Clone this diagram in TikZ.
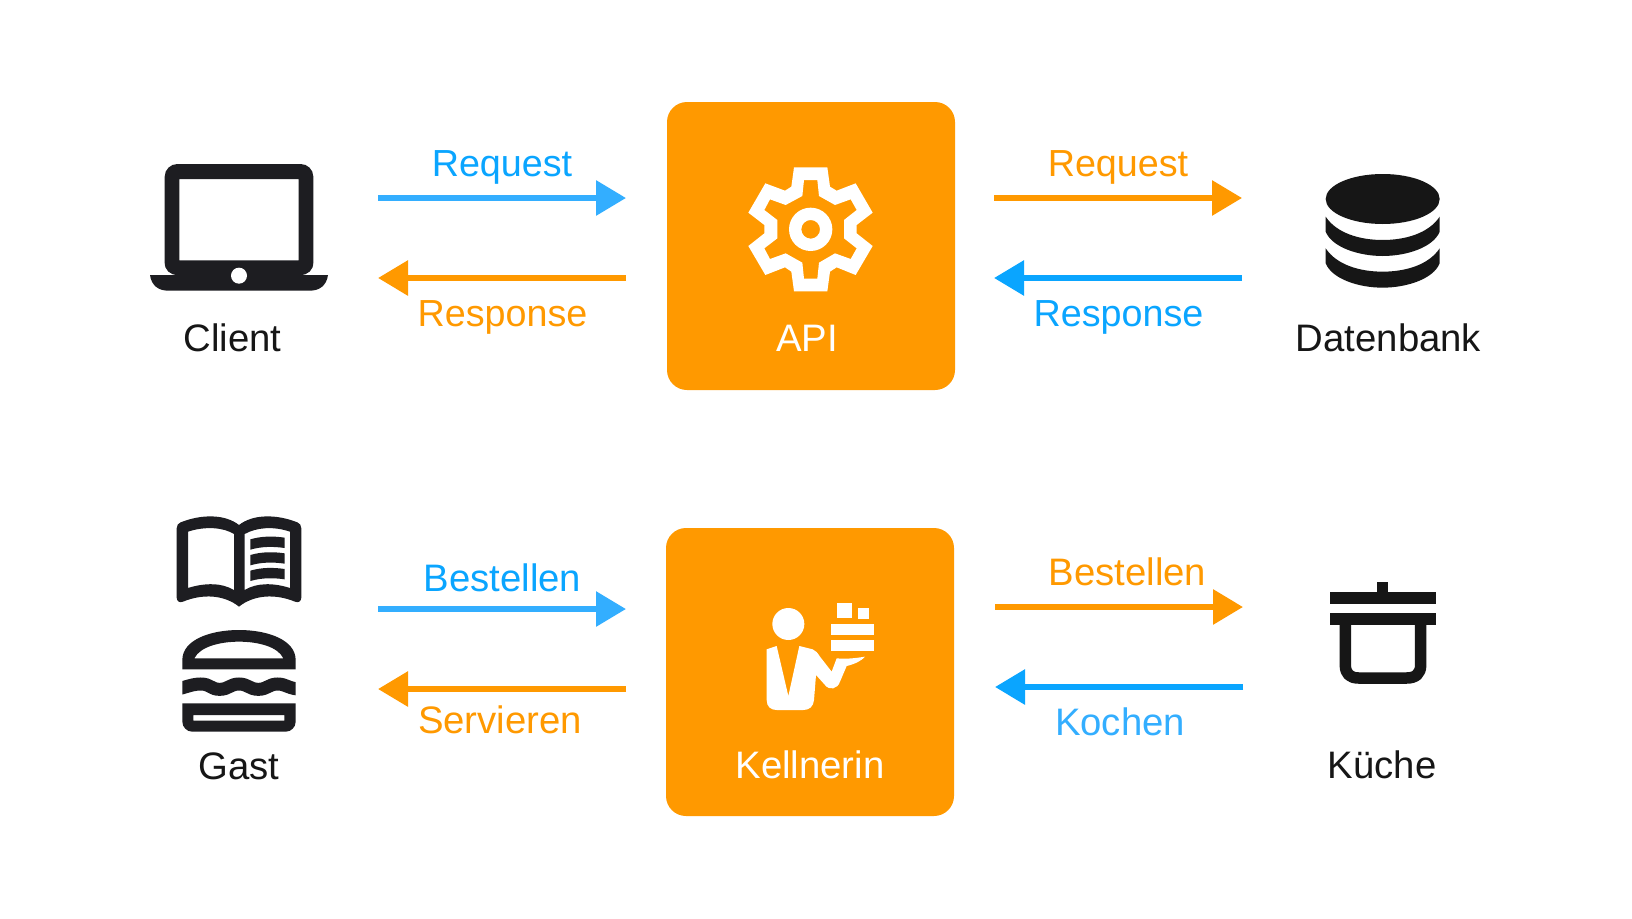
\documentclass[tikz,border=0pt]{standalone}
\usepackage{fontspec}
\setmainfont{Liberation Sans}
\definecolor{org}{HTML}{FF9900}
\definecolor{blu}{HTML}{33AEFF}
\definecolor{blutxt}{HTML}{0AA5FF}
\definecolor{ink}{HTML}{1D1D21}
\definecolor{blk}{HTML}{161616}
\usetikzlibrary{arrows.meta}
\tikzset{
 lbl/.style={anchor=base,inner sep=0pt,font=\fontsize{38.3}{40}\selectfont},
 lblb/.style={anchor=base,inner sep=0pt,font=\fontsize{37.7}{40}\selectfont},
 card/.style={fill=org,rounded corners=20pt,draw=none},
 arr/.style={line width=6pt,-{Triangle[length=30pt,width=34pt]}},
 zoomed/.style={x=.33333pt,y=-.33333pt},
}
\begin{document}
\begin{tikzpicture}[x=1pt,y=-1pt]
\useasboundingbox (0,0) rectangle (1632,918);
\fill[white] (0,0) rectangle (1632,918);
% cards
\path[card] (667,102) rectangle (955,390);
\path[card] (666,528) rectangle (954,816);
% laptop
\begin{scope}[xshift=130pt,yshift=-140pt,zoomed]
\fill[ink,even odd rule]
 (104,110) arc[start angle=180,end angle=270,radius=38] -- (512,72) arc[start angle=270,end angle=360,radius=38] -- (550,367) .. controls (550,390) and (535,405) .. (510,405) -- (594,405) .. controls (590,435) and (570,452) .. (540,452) -- (114,452) .. controls (84,452) and (64,435) .. (60,405) -- (144,405) .. controls (119,405) and (104,390) .. (104,367) -- cycle
 (148,117) rectangle (506,361);
\fill[white] (327,407) circle[radius=24];
\end{scope}
% book + burger
\begin{scope}[xshift=140pt,yshift=-500pt,zoomed]
\fill[ink,even odd rule]
 (110,85) .. controls (110,75) and (115,70) .. (122,67) .. controls (185,42) and (255,42) .. (297,75)
 .. controls (339,42) and (409,42) .. (472,67) .. controls (479,70) and (484,75) .. (484,85)
 -- (484,292) .. controls (484,303) and (476,310) .. (465,305) .. controls (405,280) and (340,285) .. (297,320)
 .. controls (254,285) and (189,280) .. (129,305) .. controls (118,310) and (110,303) .. (110,292) -- cycle
 (144,95) .. controls (195,78) and (250,82) .. (282,102) -- (282,270) .. controls (245,248) and (195,248) .. (144,264) -- cycle
 (314,102) .. controls (350,82) and (400,78) .. (450,95) -- (450,264) .. controls (400,248) and (350,248) .. (314,270) -- cycle;
\foreach \t in {0,47,94}{
 \fill[ink] (331,{118+\t}) .. controls (365,{108+\t}) and (400,{108+\t}) .. (434,{113+\t}) -- (434,{144+\t}) .. controls (400,{139+\t}) and (365,{139+\t}) .. (331,{149+\t}) -- cycle;
}
\fill[ink,even odd rule]
 (127,508) -- (127,480) .. controls (127,420) and (210,390) .. (297,390) .. controls (384,390) and (467,420) .. (467,480) -- (467,508) -- cycle
 (163,475) .. controls (180,440) and (240,425) .. (297,425) .. controls (354,425) and (414,440) .. (430,475) -- cycle;
\begin{scope}
\clip (127,520) rectangle (467,600);
\draw[ink,line width=13pt] (100,568) .. controls (125,568) and (150,552) .. (182,552) .. controls (212,552) and (212,568) .. (239,568) .. controls (266,568) and (270,552) .. (297,552) .. controls (324,552) and (328,568) .. (355,568) .. controls (382,568) and (386,552) .. (413,552) .. controls (440,552) and (445,568) .. (490,568);
\end{scope}
\fill[ink,even odd rule]
 (127,610) -- (467,610) -- (467,665) arc[start angle=0,end angle=90,radius=30] -- (157,695) arc[start angle=90,end angle=180,radius=30] -- cycle
 (160,645) rectangle (433,662);
\end{scope}
% gear
\begin{scope}[xshift=720pt,yshift=-150pt,zoomed]
\fill[white,even odd rule]
 (222,52)--(322,52)--(330,110)--(350,122)--(407,100)--(458,188)--(410,225)--(410,250)--(458,288)--(407,375)--(350,352)--(330,365)--(322,424)--(222,424)--(214,365)--(195,352)--(136,375)--(85,288)--(133,250)--(133,225)--(85,188)--(136,100)--(195,122)--(214,110)--cycle
 (252,90)--(292,90)--(297,138)--(345,165)--(392,148)--(410,180)--(372,210)--(372,265)--(410,295)--(392,327)--(345,310)--(297,338)--(292,386)--(252,386)--(247,338)--(197,310)--(150,327)--(133,295)--(172,265)--(172,210)--(133,180)--(150,148)--(197,165)--(247,138)--cycle;
\fill[white,even odd rule] (272,238) circle[radius=65] (272,238) circle[radius=28];
\end{scope}
% waitress
\begin{scope}[xshift=740pt,yshift=-590pt,zoomed]
\fill[white] (145,102) circle[radius=48];
\fill[white] (80,178) -- (110,168) -- (145,318) -- (178,168) -- (218,178) .. controls (228,182) and (232,188) .. (240,200) -- (275,245) -- (290,205) .. controls (320,208) and (350,204) .. (375,200) .. controls (365,212) and (345,222) .. (320,228) -- (300,275) .. controls (292,298) and (268,302) .. (255,285) -- (228,255) -- (222,330) .. controls (220,350) and (208,360) .. (190,360) -- (110,360) .. controls (92,360) and (80,350) .. (80,330) -- cycle;
\fill[white] (290,40) rectangle (335,85);
\fill[white] (355,55) rectangle (387,87);
\fill[white] (274,102) rectangle (403,134);
\fill[white] (274,151) rectangle (403,183);
\end{scope}
% database
\begin{scope}[xshift=1300pt,yshift=-160pt,zoomed]
\fill[blk] (248,117) ellipse[x radius=171,y radius=75];
\foreach \t in {0,95}{
\fill[blk] (77,{170+\t}) .. controls (110,{220+\t}) and (180,{240+\t}) .. (248,{240+\t}) .. controls (316,{240+\t}) and (386,{220+\t}) .. (419,{170+\t}) -- (419,{215+\t}) .. controls (400,{262+\t}) and (320,{288+\t}) .. (248,{288+\t}) .. controls (176,{288+\t}) and (96,{262+\t}) .. (77,{215+\t}) -- cycle;
}
\end{scope}
% pot
\begin{scope}[xshift=1310pt,yshift=-570pt,zoomed]
\fill[blk] (60,67) rectangle (378,102);
\fill[blk] (202,37) rectangle (234,69);
\fill[blk] (60,130) rectangle (378,165);
\draw[blk,line width=11.5pt,line join=round] (106,150) -- (106,285) .. controls (106,312) and (120,324) .. (146,324) -- (290,324) .. controls (316,324) and (332,312) .. (332,285) -- (332,150);
\end{scope}
% arrow end points
\coordinate (a1s) at (378,198); \coordinate (a1e) at (626,198);
\coordinate (a2s) at (626,278); \coordinate (a2e) at (378,278);
\coordinate (a3s) at (994,198); \coordinate (a3e) at (1242,198);
\coordinate (a4s) at (1242,278); \coordinate (a4e) at (994,278);
\coordinate (b1s) at (378,609); \coordinate (b1e) at (626,609);
\coordinate (b2s) at (626,689); \coordinate (b2e) at (378,689);
\coordinate (b3s) at (995,607); \coordinate (b3e) at (1243,607);
\coordinate (b4s) at (1243,687); \coordinate (b4e) at (995,687);
\draw[arr,blu] (a1s) -- (a1e);
\draw[arr,org] (a2s) -- (a2e);
\draw[arr,org] (a3s) -- (a3e);
\draw[arr,blutxt] (a4s) -- (a4e);
\draw[arr,blu] (b1s) -- (b1e);
\draw[arr,org] (b2s) -- (b2e);
\draw[arr,org] (b3s) -- (b3e);
\draw[arr,blutxt] (b4s) -- (b4e);
% labels
\node[lblb,text=blutxt] (t1) at (502,176) {Request};
\node[lblb,text=org] (t2) at (502.5,326) {Response};
\node[lblb,text=org] (t3) at (1118,176) {Request};
\node[lblb,text=blutxt] (t4) at (1118.5,326) {Response};
\node[lbl,text=blk] (t5) at (232.5,351) {Client};
\node[lbl,text=white] (t6) at (807,351) {API};
\node[lbl,text=blk] (t7) at (1388.5,351) {Datenbank};
\node[lbl,text=blutxt] (t8) at (502.5,591) {Bestellen};
\node[lbl,text=org] (t9) at (500,733) {Servieren};
\node[lbl,text=org] (t10) at (1127.5,585) {Bestellen};
\node[lbl,text=blu] (t11) at (1120,735) {Kochen};
\node[lbl,text=blk] (t12) at (239,779) {Gast};
\node[lbl,text=white] (t13) at (810,778) {Kellnerin};
\node[lbl,text=blk] (t14) at (1382,778) {Küche};
\end{tikzpicture}
\end{document}
